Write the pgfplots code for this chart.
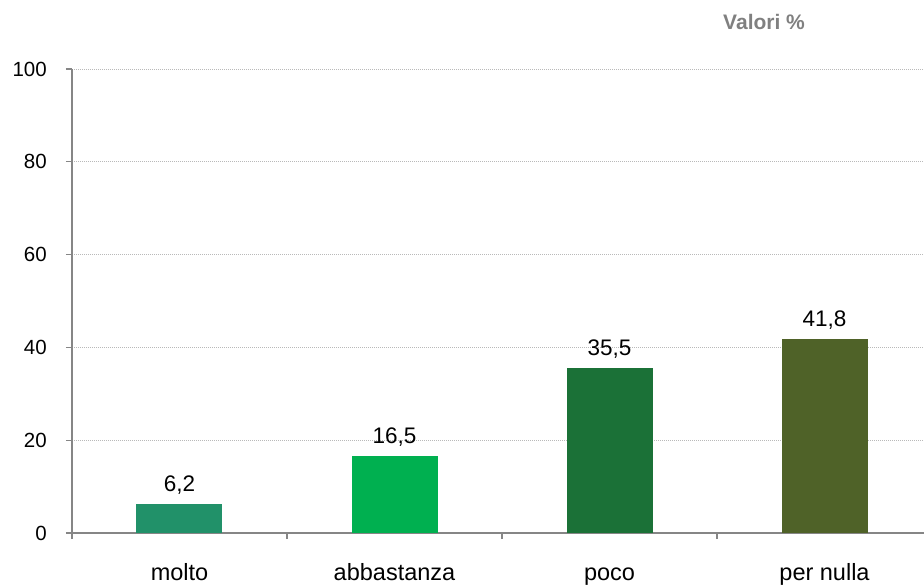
\documentclass[border=0pt]{standalone}
\usepackage{pgfplots}
\pgfplotsset{compat=1.18}
\usepackage{fontspec}
\setmainfont{Liberation Sans}

\definecolor{cmolto}{HTML}{219169}
\definecolor{cabbastanza}{HTML}{00B050}
\definecolor{cpoco}{HTML}{1B7137}
\definecolor{cnulla}{HTML}{4F6228}
\definecolor{axisgray}{HTML}{868686}

\begin{document}
\begin{tikzpicture}
\begin{axis}[
    scale only axis,
    width=852pt, height=464pt,
    xmin=-0.5, xmax=3.4628,
    ymin=0, ymax=100,
    clip=false,
    ybar, bar width=0.4, bar shift=0pt,
    axis x line*=bottom, axis y line*=left,
    axis line style={draw=axisgray, line width=1.5pt, -},
    tick align=outside, major tick length=6pt,
    xtick pos=bottom, ytick pos=left,
    tick style={draw=axisgray, line width=1.2pt},
    ytick={0,20,...,100},
    xtick={-0.5,0.5,1.5,2.5},
    xticklabels={},
    extra x ticks={0,1,2,3},
    extra x tick labels={molto,abbastanza,poco,per nulla},
    extra x tick style={major tick length=0pt,
        xticklabel style={anchor=base, yshift=-47pt,
            font=\fontsize{23.5}{27}\selectfont}},
    ymajorgrids,
    grid style={dash pattern=on 1pt off 1pt, draw=gray!55, line width=0.8pt},
    ticklabel style={font=\fontsize{20.5}{25}\selectfont},
    /pgf/number format/assume math mode=true,
    yticklabel style={anchor=east, inner sep=0pt, xshift=-19pt},
    nodes near coords,
    nodes near coords style={font=\fontsize{22.5}{26}\selectfont,
        /pgf/number format/use comma,
        /pgf/number format/fixed,
        /pgf/number format/fixed zerofill,
        /pgf/number format/precision=1},
    every node near coord/.append style={anchor=base, yshift=13pt, inner sep=0pt},
]
\addplot[fill=cmolto, draw=none] coordinates {(0,6.2)};
\addplot[fill=cabbastanza, draw=none] coordinates {(1,16.5)};
\addplot[fill=cpoco, draw=none] coordinates {(2,35.5)};
\addplot[fill=cnulla, draw=none] coordinates {(3,41.8)};

\node[anchor=base west, inner sep=0pt, text=gray,
      font=\bfseries\fontsize{21}{25}\selectfont]
      at (rel axis cs:0.7641,1.0841) {Valori \%};
\coordinate (bbsw) at (rel axis cs:-0.0845,-0.1121);
\coordinate (bbne) at (rel axis cs:1,1.1487);
\end{axis}
\pgfresetboundingbox
\path[use as bounding box] (bbsw) rectangle (bbne);
\end{tikzpicture}
\end{document}
